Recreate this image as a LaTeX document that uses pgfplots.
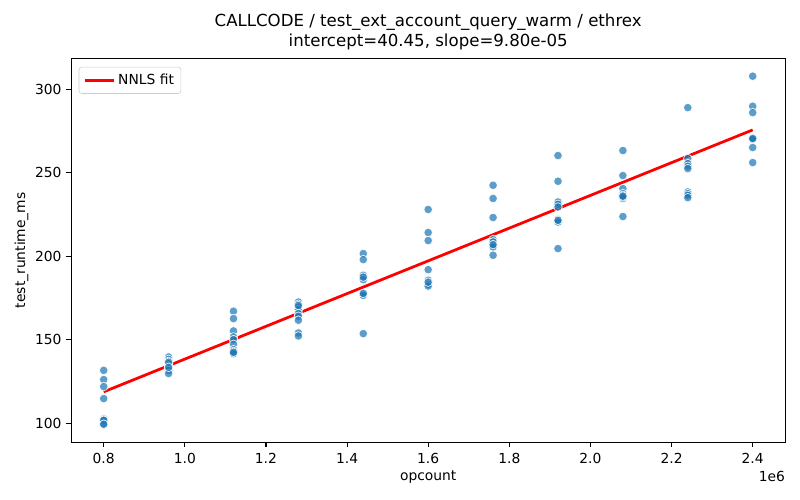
\documentclass[border=0pt]{standalone}
\usepackage{pgfplots}
\pgfplotsset{compat=1.18}
\usepackage{fontspec}
\setmainfont{DejaVu Sans}
\definecolor{tabblue}{HTML}{1F77B4}
\begin{document}
\fontsize{10pt}{12pt}\selectfont
\begin{tikzpicture}
\useasboundingbox (-51.3bp,-41.5bp) rectangle (524.7bp,318.5bp);
\begin{axis}[
  at={(0,0)}, anchor=south west,
  scale only axis,
  width=514bp, height=276.5bp,
  xmin=0.72, xmax=2.48, ymin=88.6, ymax=318.5,
  xtick={0.8,1.0,1.2,1.4,1.6,1.8,2.0,2.2,2.4},
  xticklabels={0.8,1.0,1.2,1.4,1.6,1.8,2.0,2.2,2.4},
  ytick={100,150,200,250,300},
  /pgf/number format/assume math mode=true,
  tick align=outside, tick pos=left,
  major tick length=3.5pt,
  every tick/.style={black, line width=0.8pt},
  axis line style={line width=0.8pt},
  tick label style={font=\fontsize{10pt}{12pt}\selectfont},
  xticklabel style={yshift=-1pt},
  label style={font=\fontsize{10pt}{12pt}\selectfont},
  xlabel={opcount},
  ylabel={test\_runtime\_ms},
  xlabel style={yshift=2pt},
  ylabel style={yshift=-2pt},
  legend style={at={(rel axis cs:0.0105,0.978)}, anchor=north west,
    draw=black!20, rounded corners=2pt, font=\fontsize{10pt}{12pt}\selectfont,
    inner xsep=3pt, inner ysep=3pt, row sep=0pt},
  legend cell align=left,
  legend image code/.code={\draw[#1] (0cm,0cm) -- (0.75cm,0cm);},
  clip=false,
]
\addplot[only marks, mark=*, mark size=3.1pt,
  mark options={fill=tabblue, fill opacity=0.72, draw=white, draw opacity=0.9, line width=0.5pt},
  forget plot] table[row sep=\\] {
x y\\
0.8 131.7\\ 0.8 126.2\\ 0.8 122.0\\ 0.8 114.8\\ 0.8 102.6\\ 0.8 102.0\\ 0.8 101.8\\ 0.8 99.2\\ 0.8 99.5\\
0.96 139.7\\ 0.96 138.3\\ 0.96 137.1\\ 0.96 135.7\\ 0.96 134.3\\ 0.96 132.8\\ 0.96 131.7\\ 0.96 129.8\\ 0.96 136.5\\ 0.96 133.5\\
1.12 167.1\\ 1.12 162.7\\ 1.12 155.3\\ 1.12 151.7\\ 1.12 150.1\\ 1.12 147.3\\ 1.12 144.1\\ 1.12 143.1\\ 1.12 141.7\\ 1.12 142.5\\
1.28 172.6\\ 1.28 171.3\\ 1.28 169.6\\ 1.28 168.1\\ 1.28 165.7\\ 1.28 164.1\\ 1.28 161.7\\ 1.28 154.1\\ 1.28 152.3\\ 1.28 170.5\\
1.44 201.6\\ 1.44 198.0\\ 1.44 188.6\\ 1.44 186.0\\ 1.44 177.2\\ 1.44 176.6\\ 1.44 153.7\\ 1.44 177.8\\ 1.44 187.5\\
1.6 228.0\\ 1.6 214.2\\ 1.6 209.4\\ 1.6 192.0\\ 1.6 185.6\\ 1.6 184.0\\ 1.6 183.2\\ 1.6 182.2\\ 1.6 184.5\\
1.76 242.5\\ 1.76 234.6\\ 1.76 223.2\\ 1.76 210.0\\ 1.76 208.6\\ 1.76 206.6\\ 1.76 205.6\\ 1.76 200.6\\ 1.76 207.0\\
1.92 260.3\\ 1.92 244.9\\ 1.92 232.5\\ 1.92 231.1\\ 1.92 229.5\\ 1.92 222.0\\ 1.92 220.5\\ 1.92 204.6\\ 1.92 221.5\\
2.08 263.3\\ 2.08 248.3\\ 2.08 240.5\\ 2.08 237.5\\ 2.08 236.5\\ 2.08 234.6\\ 2.08 223.8\\ 2.08 235.5\\ 2.08 236.0\\
2.24 289.0\\ 2.24 258.5\\ 2.24 255.5\\ 2.24 253.9\\ 2.24 252.5\\ 2.24 238.5\\ 2.24 237.5\\ 2.24 236.5\\ 2.24 235.1\\
2.4 307.8\\ 2.4 289.8\\ 2.4 286.0\\ 2.4 270.8\\ 2.4 270.1\\ 2.4 265.1\\ 2.4 256.1\\ 2.4 270.5\\
};
\addplot[red, line width=2pt] coordinates {(0.8,118.85) (2.4,275.65)};
\addlegendentry{NNLS fit}
\node[anchor=north east, inner sep=0pt] at ([yshift=-21pt]rel axis cs:1,0) {1e6};
\node[anchor=south, align=center, font=\fontsize{12pt}{14.4pt}\selectfont, inner sep=0pt]
  at ([yshift=6pt]rel axis cs:0.5,1) {CALLCODE / test\_ext\_account\_query\_warm / ethrex\\intercept=40.45, slope=9.80e-05};
\end{axis}
\end{tikzpicture}
\end{document}
